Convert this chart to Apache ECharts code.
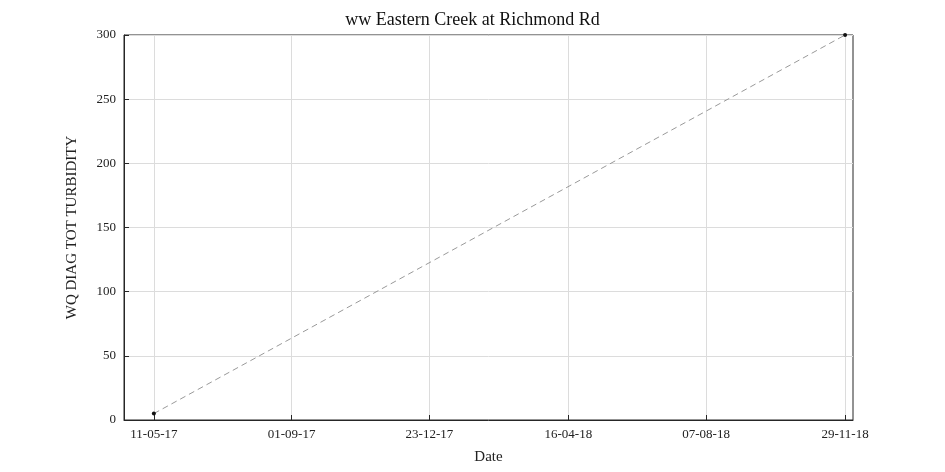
<!DOCTYPE html>
<html><head><meta charset="utf-8">
<script src="https://cdn.jsdelivr.net/npm/echarts@6/dist/echarts.min.js"></script>
<style>html,body{margin:0;background:#fff}#c{width:945px;height:472px}</style>
</head><body><div id="c"></div>
<script>
const dates = ['2017-05-11', '2018-11-29'];
const values = [5, 300];
const tickDates = ['2017-05-11', '2017-09-01', '2017-12-23', '2018-04-16', '2018-08-07', '2018-11-29'];
const xMin = '2017-04-16T12:00:00Z', xMax = '2018-12-05T12:00:00Z';

const ts = d => Date.parse(d.length === 10 ? d + 'T00:00:00Z' : d);
const tickTs = tickDates.map(ts);
const pad = n => String(n).padStart(2, '0');
const fmt = v => { const d = new Date(v); return pad(d.getUTCDate()) + '-' + pad(d.getUTCMonth() + 1) + '-' + pad(d.getUTCFullYear() % 100); };
const font = 'Liberation Serif';
const chart = echarts.init(document.getElementById('c'));
chart.setOption({
  animation: false,
  textStyle: { fontFamily: font },
  title: { text: 'ww Eastern Creek at Richmond Rd', left: 'center', top: 6, textStyle: { fontFamily: font, fontSize: 18, fontWeight: 'normal', color: '#111' } },
  grid: { left: 124, right: 92, top: 35, bottom: 52, show: true, borderColor: '#262626', borderWidth: 1 },
  xAxis: {
    type: 'value', min: ts(xMin), max: ts(xMax),
    name: 'Date', nameLocation: 'middle', nameGap: 30, nameTextStyle: { fontSize: 15, color: '#222' },
    axisLine: { lineStyle: { color: '#262626' } },
    axisTick: { show: true, inside: true, length: 5, lineStyle: { color: '#262626' }, customValues: tickTs },
    axisLabel: { customValues: tickTs, formatter: fmt, fontSize: 13, color: '#222', showMinLabel: true, showMaxLabel: true },
    splitLine: { show: true, lineStyle: { color: '#dcdcdc' } }
  },
  yAxis: {
    type: 'value', min: 0, max: 300, interval: 50,
    name: 'WQ DIAG TOT TURBIDITY', nameLocation: 'middle', nameGap: 44, nameTextStyle: { fontSize: 15, color: '#222' },
    axisLine: { show: true, lineStyle: { color: '#262626' } },
    axisTick: { show: true, inside: true, length: 5, lineStyle: { color: '#262626' } },
    axisLabel: { fontSize: 13, color: '#222' },
    splitLine: { show: true, lineStyle: { color: '#dcdcdc' } }
  },
  series: [{
    type: 'line',
    data: dates.map((d, i) => [ts(d), values[i]]),
    symbol: 'circle', symbolSize: 4,
    itemStyle: { color: '#111' },
    lineStyle: { color: '#999', type: [6, 4], width: 1 }
  }]
});
</script></body></html>
